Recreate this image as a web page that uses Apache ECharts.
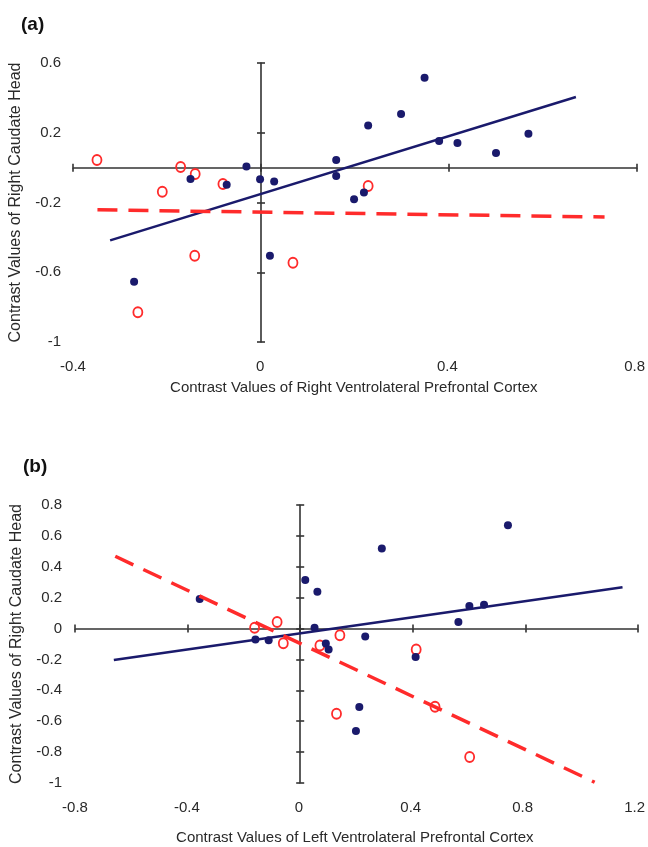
<!DOCTYPE html>
<html>
<head>
<meta charset="utf-8">
<script src="https://cdn.jsdelivr.net/npm/echarts@6/dist/echarts.min.js"></script>
<style>
  html, body { margin: 0; padding: 0; background: #fff; }
  #chart { width: 648px; height: 847px; }
</style>
</head>
<body>
<div id="chart"></div>
<script>
// panel (a): right VLPFC vs right caudate head
const blueDotsA = [[-0.270,-0.655],[-0.150,-0.065],[-0.073,-0.098],[-0.031,0.006],[-0.002,-0.067],[0.028,-0.080],[0.019,-0.506],[0.160,0.044],[0.160,-0.048],[0.198,-0.182],[0.219,-0.142],[0.228,0.241],[0.298,0.308],[0.348,0.515],[0.379,0.152],[0.418,0.141],[0.500,0.084],[0.569,0.194]];
const redCirclesA = [[-0.349,0.044],[-0.210,-0.139],[-0.171,0.003],[-0.140,-0.037],[-0.081,-0.094],[-0.141,-0.506],[-0.262,-0.829],[0.068,-0.546],[0.228,-0.105]];
const blueFitA = [[-0.321,-0.417],[0.670,0.405]];
const redFitA = [[-0.348,-0.242],[0.731,-0.283]];
const xTicksA = { min: -0.4, max: 0.8, interval: 0.4 };
const yTicksA = { min: -1, max: 0.6, interval: 0.4 };

// panel (b): left VLPFC vs right caudate head
const blueDotsB = [[-0.357,0.192],[-0.159,-0.071],[-0.112,-0.076],[0.018,0.315],[0.061,0.238],[0.051,0.006],[0.091,-0.097],[0.101,-0.136],[0.231,-0.051],[0.290,0.518],[0.210,-0.508],[0.198,-0.663],[0.410,-0.184],[0.562,0.042],[0.601,0.146],[0.653,0.154],[0.738,0.669]];
const redCirclesB = [[-0.162,0.005],[-0.082,0.043],[-0.060,-0.095],[0.070,-0.109],[0.141,-0.043],[0.129,-0.551],[0.412,-0.136],[0.479,-0.507],[0.602,-0.831]];
const blueFitB = [[-0.662,-0.203],[1.145,0.268]];
const redFitB = [[-0.657,0.468],[1.046,-0.995]];
const xTicksB = { min: -0.8, max: 1.2, interval: 0.4 };
const yTicksB = { min: -1, max: 0.8, interval: 0.2 };

const yName = 'Contrast Values of Right Caudate Head';
const xNameA = 'Contrast Values of Right Ventrolateral Prefrontal Cortex';
const xNameB = 'Contrast Values of Left Ventrolateral Prefrontal Cortex';

const FONT = "'Liberation Sans', Arial, sans-serif";
const BLUE = '#1a1a6c';
const RED = '#ff2b2b';
const AXIS = '#333';
const TEXT = '#2a2a2a';

const gridA = { left: 73, right: 11, top: 63, height: 279 };
const gridB = { left: 75, right: 10, top: 505, height: 278 };

// axis through zero, ticks drawn on both sides by pairing two axes
function zeroAxis (grid, pos, range, showLine) {
  return {
    type: 'value', gridIndex: grid, position: pos,
    min: range.min, max: range.max, interval: range.interval,
    axisLine: { show: showLine, onZero: true, lineStyle: { color: AXIS, width: 1.6 } },
    axisTick: { show: true, inside: true, length: 4, lineStyle: { color: AXIS, width: 1.6 } },
    axisLabel: { show: false },
    splitLine: { show: false }
  };
}
// axis at the plot edge, only for labels and name
function labelAxis (grid, pos, range, name, margin, gap, size) {
  return {
    type: 'value', gridIndex: grid, position: pos,
    min: range.min, max: range.max, interval: range.interval,
    axisLine: { show: false, onZero: false },
    axisTick: { show: false },
    splitLine: { show: false },
    axisLabel: { margin: margin, fontFamily: FONT, fontSize: 15, color: TEXT },
    name: name, nameLocation: 'middle', nameGap: gap,
    nameTextStyle: { fontFamily: FONT, fontSize: size, color: TEXT }
  };
}
function dots (data, xi) {
  return {
    type: 'scatter', xAxisIndex: xi, yAxisIndex: xi, data: data,
    symbol: 'circle', symbolSize: 8, itemStyle: { color: BLUE, opacity: 1 }, z: 3
  };
}
function circles (data, xi) {
  return {
    type: 'scatter', xAxisIndex: xi, yAxisIndex: xi, data: data,
    symbol: 'circle', symbolSize: [9, 10],
    itemStyle: { color: 'rgba(0,0,0,0)', borderColor: RED, borderWidth: 1.9, opacity: 1 }, z: 2
  };
}
function fit (data, xi, color, width, dash) {
  return {
    type: 'line', xAxisIndex: xi, yAxisIndex: xi, data: data,
    symbol: 'none', z: 4,
    lineStyle: { color: color, width: width, type: dash }
  };
}

const chart = echarts.init(document.getElementById('chart'), null, { renderer: 'canvas' });
chart.setOption({
  animation: false,
  backgroundColor: '#fff',
  title: [
    { text: '(a)', left: 16, top: 10, textStyle: { fontFamily: FONT, fontSize: 19, fontWeight: 'bold', color: '#111' } },
    { text: '(b)', left: 18, top: 452, textStyle: { fontFamily: FONT, fontSize: 19, fontWeight: 'bold', color: '#111' } }
  ],
  grid: [gridA, gridA, gridB, gridB],
  xAxis: [
    zeroAxis(0, 'bottom', xTicksA, true),
    zeroAxis(0, 'top', xTicksA, false),
    labelAxis(1, 'bottom', xTicksA, xNameA, 17, 38, 15),
    zeroAxis(2, 'bottom', xTicksB, true),
    zeroAxis(2, 'top', xTicksB, false),
    labelAxis(3, 'bottom', xTicksB, xNameB, 17, 47, 15)
  ],
  yAxis: [
    zeroAxis(0, 'left', yTicksA, true),
    zeroAxis(0, 'right', yTicksA, false),
    labelAxis(1, 'left', yTicksA, yName, 12, 49, 16),
    zeroAxis(2, 'left', yTicksB, true),
    zeroAxis(2, 'right', yTicksB, false),
    labelAxis(3, 'left', yTicksB, yName, 13, 50, 16)
  ],
  series: [
    circles(redCirclesA, 0),
    dots(blueDotsA, 0),
    fit(blueFitA, 0, BLUE, 2.5, 'solid'),
    fit(redFitA, 0, RED, 3.5, [20, 11]),
    circles(redCirclesB, 3),
    dots(blueDotsB, 3),
    fit(blueFitB, 3, BLUE, 2.5, 'solid'),
    fit(redFitB, 3, RED, 3.5, [20, 11])
  ]
});
</script>
</body>
</html>
